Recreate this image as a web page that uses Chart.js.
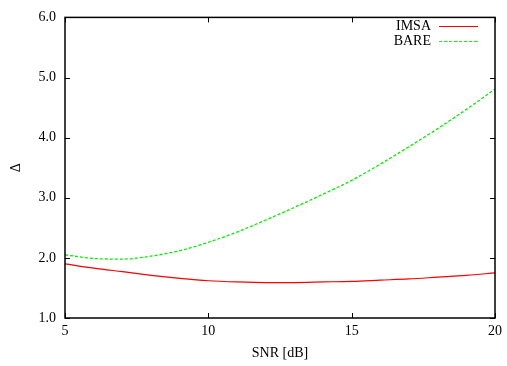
<!DOCTYPE html>
<html>
<head>
<meta charset="utf-8">
<script src="https://cdn.jsdelivr.net/npm/chart.js@4/dist/chart.umd.min.js"></script>
<style>
  body { margin: 0; background: #fff; }
  canvas { display: block; }
</style>
</head>
<body>
<canvas id="snr-chart" width="507" height="366"></canvas>
<script>
// values, SNR in dB
const snr = [5, 6, 7, 8, 9, 10, 11, 12, 13, 14, 15, 16, 17, 18, 19, 20]
const imsa = [1.90, 1.83, 1.77, 1.71, 1.66, 1.62, 1.60, 1.59, 1.59, 1.60, 1.61, 1.63, 1.65, 1.68, 1.71, 1.75]
const bare = [2.05, 1.99, 1.98, 2.03, 2.12, 2.26, 2.43, 2.63, 2.84, 3.06, 3.29, 3.56, 3.85, 4.15, 4.47, 4.81]
const xTicks = [5, 10, 15, 20]
const yTicks = [1, 2, 3, 4, 5, 6]

const font = "'Liberation Serif', 'Times New Roman', serif"

// gnuplot style frame, inward ticks on every side, legend in the corner
const framePlugin = {
    id: 'frame',
    afterDatasetsDraw(chart) {
        const ctx = chart.ctx
        const a = chart.chartArea
        const xs = chart.scales.x
        const ys = chart.scales.y
        ctx.save()
        ctx.strokeStyle = '#000'
        ctx.lineWidth = 1.5
        ctx.strokeRect(a.left, a.top, a.right - a.left, a.bottom - a.top)
        ctx.lineWidth = 1
        xTicks.forEach(v => {
            const px = Math.round(xs.getPixelForValue(v)) + 0.5
            ctx.beginPath()
            ctx.moveTo(px, a.bottom); ctx.lineTo(px, a.bottom - 5)
            ctx.moveTo(px, a.top); ctx.lineTo(px, a.top + 5)
            ctx.stroke()
        })
        yTicks.forEach(v => {
            const py = Math.round(ys.getPixelForValue(v)) + 0.5
            ctx.beginPath()
            ctx.moveTo(a.left, py); ctx.lineTo(a.left + 5, py)
            ctx.moveTo(a.right, py); ctx.lineTo(a.right - 5, py)
            ctx.stroke()
        })
        // legend
        ctx.font = '14px ' + font
        ctx.textAlign = 'right'
        ctx.textBaseline = 'middle'
        ctx.fillStyle = '#000'
        const rows = [
            { label: 'IMSA', color: '#ff0000', dash: [] },
            { label: 'BARE', color: '#00ff00', dash: [3, 2] }
        ]
        rows.forEach((r, i) => {
            const y = 26 + i * 15
            ctx.fillText(r.label, 431, y)
            ctx.strokeStyle = r.color
            ctx.setLineDash(r.dash)
            ctx.beginPath()
            ctx.moveTo(439, y + 0.5); ctx.lineTo(478, y + 0.5)
            ctx.stroke()
        })
        ctx.restore()
    }
}

const config = {
    type: 'line',
    data: {
        labels: snr,
        datasets: [
            {
                label: 'IMSA',
                data: snr.map((s, i) => ({ x: s, y: imsa[i] })),
                borderColor: '#ff0000',
                borderWidth: 1.2,
                pointRadius: 0,
                cubicInterpolationMode: 'monotone'
            },
            {
                label: 'BARE',
                data: snr.map((s, i) => ({ x: s, y: bare[i] })),
                borderColor: '#00f000',
                borderWidth: 1.3,
                borderDash: [3, 2],
                pointRadius: 0,
                cubicInterpolationMode: 'monotone'
            }
        ]
    },
    options: {
        responsive: false,
        animation: false,
        layout: { padding: { top: 15, right: 12, left: 0, bottom: 0 } },
        plugins: { legend: { display: false }, tooltip: { enabled: false } },
        scales: {
            x: {
                type: 'linear',
                min: 5,
                max: 20,
                afterBuildTicks: scale => { scale.ticks = xTicks.map(v => ({ value: v })) },
                afterFit: scale => { scale.height = 48 },
                grid: { display: false, drawTicks: false },
                border: { display: false },
                ticks: { color: '#000', padding: 5, font: { family: font, size: 14 } },
                title: {
                    display: true,
                    text: 'SNR [dB]',
                    color: '#000',
                    padding: { top: 4 },
                    font: { family: font, size: 14 }
                }
            },
            y: {
                min: 1,
                max: 6,
                afterBuildTicks: scale => { scale.ticks = yTicks.map(v => ({ value: v })) },
                afterFit: scale => { scale.width = 65 },
                grid: { display: false, drawTicks: false },
                border: { display: false },
                ticks: {
                    color: '#000',
                    padding: 9,
                    font: { family: font, size: 14 },
                    callback: v => v.toFixed(1)
                },
                title: {
                    display: true,
                    text: 'Δ',
                    color: '#000',
                    padding: { top: 8, bottom: 0 },
                    font: { family: font, size: 14 }
                }
            }
        }
    },
    plugins: [framePlugin]
}

const snrChart = new Chart(document.getElementById('snr-chart'), config)
</script>
</body>
</html>
